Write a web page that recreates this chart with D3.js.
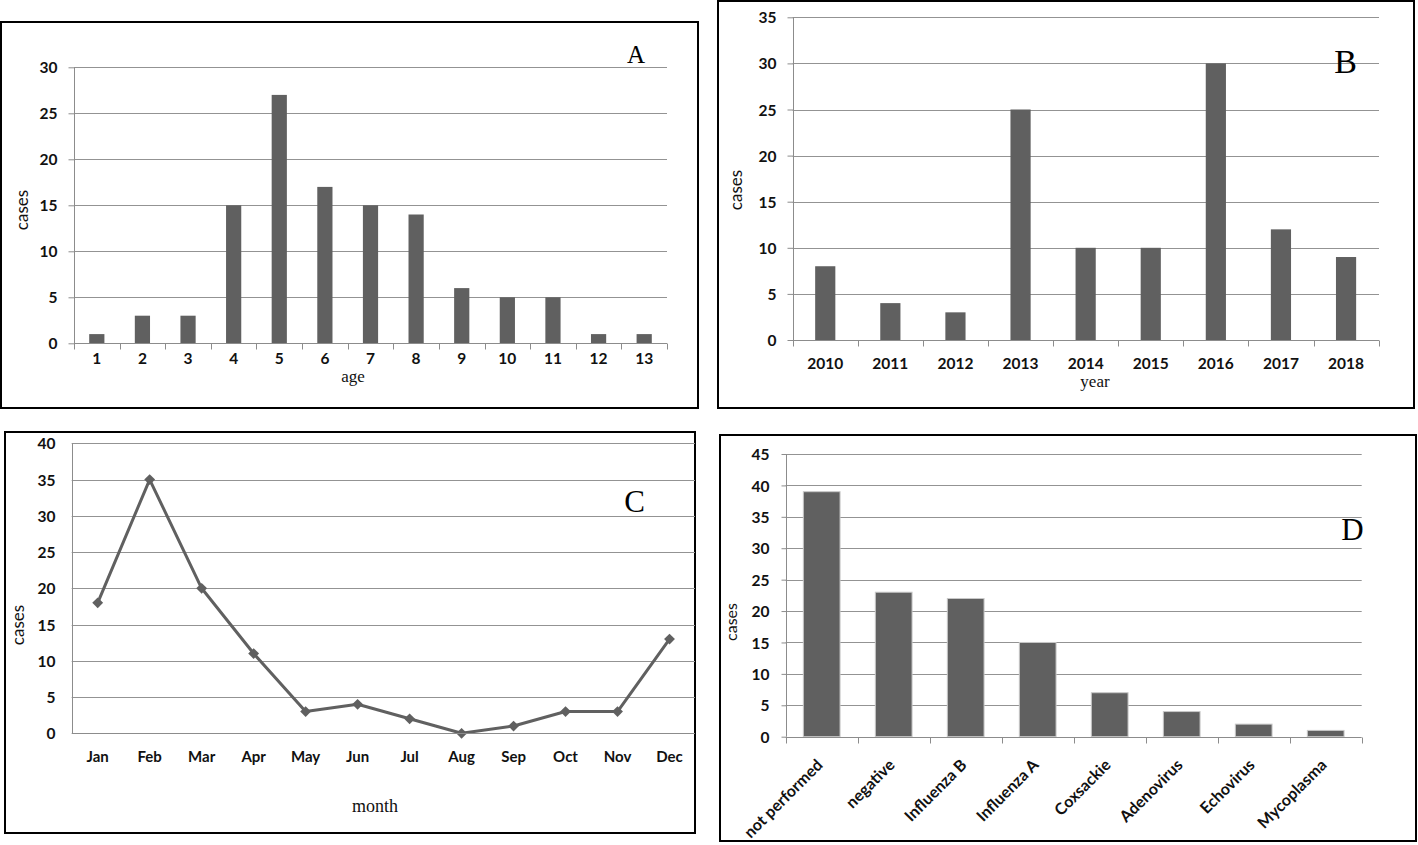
<!DOCTYPE html>
<html>
<head>
<meta charset="utf-8">
<script src="https://cdn.jsdelivr.net/npm/d3@7"></script>
<style>
  html, body { margin: 0; padding: 0; background: #fff; }
  svg { display: block; }
  .tick text { font-family: Lato, "Open Sans", sans-serif; font-weight: 700; fill: #111; }
</style>
</head>
<body>
<svg id="chart" width="1418" height="845"></svg>
<script>
// ---------------- data ----------------
const ageCategories = ["1","2","3","4","5","6","7","8","9","10","11","12","13"];
const ageCases = [1, 3, 3, 15, 27, 17, 15, 14, 6, 5, 5, 1, 1];
const ageTicks = [0, 5, 10, 15, 20, 25, 30];

const yearCategories = ["2010","2011","2012","2013","2014","2015","2016","2017","2018"];
const yearCases = [8, 4, 3, 25, 10, 10, 30, 12, 9];
const yearTicks = [0, 5, 10, 15, 20, 25, 30, 35];

const monthCategories = ["Jan","Feb","Mar","Apr","May","Jun","Jul","Aug","Sep","Oct","Nov","Dec"];
const monthCases = [18, 35, 20, 11, 3, 4, 2, 0, 1, 3, 3, 13];
const monthTicks = [0, 5, 10, 15, 20, 25, 30, 35, 40];

const pathogenCategories = ["not performed","negative","Influenza B","Influenza A","Coxsackie","Adenovirus","Echovirus","Mycoplasma"];
const pathogenCases = [39, 23, 22, 15, 7, 4, 2, 1];
const pathogenTicks = [0, 5, 10, 15, 20, 25, 30, 35, 40, 45];

// ---------------- style ----------------
const BAR = "#606060";
const GRID = "#939393";
const AXIS = "#8c8c8c";
const SANS = "Lato, 'Open Sans', sans-serif";
const SERIF = "'Liberation Serif', 'Times New Roman', serif";
const svg = d3.select("#chart");

function panel(o) {
  const g = svg.append("g");
  // frame
  g.append("rect").attr("x", o.box[0]).attr("y", o.box[1])
    .attr("width", o.box[2]).attr("height", o.box[3])
    .attr("fill", "none").attr("stroke", "#000").attr("stroke-width", 2);

  const x = d3.scaleBand().domain(o.cats).range([o.x0, o.x1]).paddingInner(0).paddingOuter(0);
  const y = d3.scaleLinear().domain([0, d3.max(o.ticks)]).range([o.y0, o.yTop]);

  // gridlines
  g.append("g").selectAll("line").data(o.ticks.filter(t => t > 0)).join("line")
    .attr("x1", o.x0).attr("x2", o.gridEnd)
    .attr("y1", d => Math.round(y(d)) + 0.5).attr("y2", d => Math.round(y(d)) + 0.5)
    .attr("stroke", GRID).attr("stroke-width", 1);

  // y axis
  const yAxis = d3.axisLeft(y).tickValues(o.ticks).tickFormat(d3.format("d"))
    .tickSize(o.yTick).tickPadding(17 - o.yTick);
  const ya = g.append("g").attr("transform", `translate(${Math.round(o.x0) + 0.5},0)`).call(yAxis);
  ya.select(".domain").attr("stroke", AXIS).attr("d", `M0,${y(0)}V${y(d3.max(o.ticks))}`);
  ya.selectAll(".tick line").attr("stroke", AXIS);
  ya.selectAll(".tick text").attr("font-size", o.fs).attr("dy", "0.36em");

  // bars or line
  if (o.type === "bar") {
    const bw = x.bandwidth() * o.barFrac;
    g.append("g").selectAll("rect").data(o.vals).join("rect")
      .attr("x", (d, i) => x(o.cats[i]) + (x.bandwidth() - bw) / 2)
      .attr("y", d => y(d)).attr("width", bw).attr("height", d => y(0) - y(d))
      .attr("fill", BAR)
      .attr("stroke", o.barStroke || "none").attr("stroke-width", o.barStroke ? 1 : 0);
  } else {
    const line = d3.line().x((d, i) => x(o.cats[i]) + x.bandwidth() / 2).y(d => y(d));
    g.append("path").datum(o.vals).attr("d", line)
      .attr("fill", "none").attr("stroke", BAR).attr("stroke-width", 3).attr("stroke-linejoin", "round");
    const sym = d3.symbol().type(d3.symbolDiamond2).size(75);
    g.append("g").selectAll("path").data(o.vals).join("path")
      .attr("transform", (d, i) => `translate(${x(o.cats[i]) + x.bandwidth() / 2},${y(d)})`)
      .attr("d", sym).attr("fill", BAR);
  }

  // x axis
  const xa = g.append("g").attr("transform", `translate(0,${Math.round(o.y0) + 0.5})`);
  xa.append("line").attr("x1", o.x0).attr("x2", o.axisEnd).attr("stroke", AXIS);
  if (o.xTick > 0) {
    const bounds = o.cats.map(c => x(c)).concat([o.x1]);
    xa.selectAll("line.tk").data(bounds).join("line").attr("class", "tk")
      .attr("x1", d => Math.round(d) + 0.5).attr("x2", d => Math.round(d) + 0.5)
      .attr("y1", 0).attr("y2", o.xTick).attr("stroke", AXIS);
  }
  const labs = g.append("g").selectAll("text").data(o.cats).join("text")
    .attr("font-family", SANS).attr("font-weight", 700)
    .attr("font-size", o.xfs).attr("fill", "#111").text(d => d);
  if (o.rotate) {
    labs.attr("text-anchor", "end")
      .attr("transform", d => `translate(${x(d) + x.bandwidth() / 2 + o.rotDx},${o.rotDy}) rotate(-45)`);
  } else {
    labs.attr("text-anchor", "middle")
      .attr("x", d => x(d) + x.bandwidth() / 2).attr("y", o.labY);
  }

  // axis titles
  g.append("text").attr("transform", `translate(${o.yTitle[0]},${o.yTitle[1]}) rotate(-90)`)
    .attr("text-anchor", "middle").attr("font-family", SANS)
    .attr("font-size", o.yTitleFs).attr("fill", "#111").text("cases");
  if (o.xTitle) {
    g.append("text").attr("x", o.xTitle[0]).attr("y", o.xTitle[1]).attr("text-anchor", "middle")
      .attr("font-family", SERIF)
      .attr("font-size", o.xTitleFs).attr("fill", "#111").text(o.xTitleText);
  }
  // panel letter
  g.append("text").attr("x", o.letter[0]).attr("y", o.letter[1]).attr("text-anchor", "middle")
    .attr("font-family", SERIF)
    .attr("font-size", o.letterFs).attr("fill", "#000").text(o.letterText);
}

panel({
  type: "bar", cats: ageCategories, vals: ageCases, ticks: ageTicks,
  box: [1, 22, 697, 386], x0: 74, x1: 667, y0: 343.3, yTop: 67.3, gridEnd: 667, axisEnd: 667,
  barFrac: 1 / 3, yTick: 6, xTick: 6, fs: 15.5, xfs: 15.5, labY: 364,
  yTitle: [28, 210], yTitleFs: 17, xTitle: [353, 382], xTitleFs: 17, xTitleText: "age",
  letter: [636, 63], letterFs: 25, letterText: "A"
});

panel({
  type: "bar", cats: yearCategories, vals: yearCases, ticks: yearTicks,
  box: [718, 1, 696, 407], x0: 792.7, x1: 1378.6, y0: 340, yTop: 17.3, gridEnd: 1379, axisEnd: 1379,
  barFrac: 0.31, yTick: 6, xTick: 6, fs: 15.5, xfs: 15.5, labY: 369,
  yTitle: [742, 190], yTitleFs: 17, xTitle: [1095, 387], xTitleFs: 17, xTitleText: "year",
  letter: [1345.5, 73], letterFs: 34, letterText: "B"
});

panel({
  type: "line", cats: monthCategories, vals: monthCases, ticks: monthTicks,
  box: [5, 432, 690, 401], x0: 71.7, x1: 695.5, y0: 733.3, yTop: 443.3, gridEnd: 695, axisEnd: 695,
  yTick: 0, xTick: 0, fs: 15.5, xfs: 15, labY: 762,
  yTitle: [24, 625], yTitleFs: 17, xTitle: [375, 812], xTitleFs: 18, xTitleText: "month",
  letter: [634.5, 512], letterFs: 31, letterText: "C"
});

panel({
  type: "bar", cats: pathogenCategories, vals: pathogenCases, ticks: pathogenTicks,
  box: [720, 435, 696, 406], x0: 785.7, x1: 1361.7, y0: 736.7, yTop: 454, gridEnd: 1361.7, axisEnd: 1361.7,
  barFrac: 0.51, barStroke: "#c8c8c8", yTick: 5, xTick: 6, fs: 15.5, xfs: 16,
  rotate: true, rotDx: 2, rotDy: 766,
  yTitle: [737, 622], yTitleFs: 16, xTitle: null,
  letter: [1352.5, 540], letterFs: 31, letterText: "D"
});
</script>
</body>
</html>
